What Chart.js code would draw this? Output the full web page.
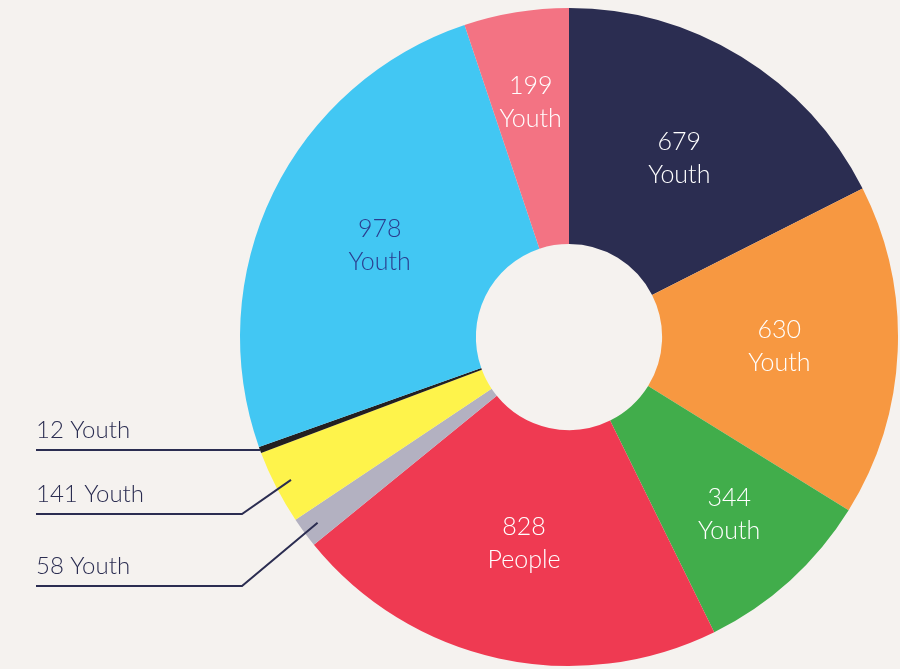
<!DOCTYPE html>
<html>
<head>
<meta charset="utf-8">
<script src="https://cdn.jsdelivr.net/npm/chart.js@4/dist/chart.umd.min.js"></script>
<style>
  html, body { margin: 0; padding: 0; background: #f5f2ef; }
  #wrap { width: 900px; height: 669px; position: relative; }
</style>
</head>
<body>
<div id="wrap"><canvas id="c" width="900" height="669"></canvas></div>
<script>
const values = [679, 630, 344, 828, 58, 141, 12, 978, 199];
const units  = ["Youth", "Youth", "Youth", "People", "Youth", "Youth", "Youth", "Youth", "Youth"];
const colors = ["#2b2d51", "#f79841", "#41ad4b", "#ef3a52", "#b3b1c1", "#fef34b", "#231f20", "#42c7f3", "#f37383"];
const textColors = ["#ffffff", "#ffffff", "#ffffff", "#ffffff", "#2b2d51", "#2b2d51", "#2b2d51", "#2b3d8f", "#ffffff"];
const labels = values.map((v, i) => v + " " + units[i]);

const FONT_IN = '300 25px Lato, "Open Sans", sans-serif';
const FONT_OUT = '300 24px Lato, "Open Sans", sans-serif';

const labelPlugin = {
  id: 'sliceLabels',
  afterDatasetsDraw(chart) {
    const ctx = chart.ctx;
    const meta = chart.getDatasetMeta(0);
    const total = values.reduce((a, b) => a + b, 0);
    ctx.save();
    ctx.font = FONT_IN;
    ctx.textAlign = 'center';
    ctx.textBaseline = 'middle';
    const external = [];
    meta.data.forEach((arc, i) => {
      const p = arc.getProps(['x', 'y', 'startAngle', 'endAngle', 'outerRadius', 'innerRadius'], true);
      const mid = (p.startAngle + p.endAngle) / 2;
      const span = (p.endAngle - p.startAngle) * 180 / Math.PI;
      if (values[i] / total < 0.05) {
        external.push({ i, p, mid });
        return;
      }
      const r = p.outerRadius * (span < 40 ? 0.725 : 0.64);
      const cx = p.x + Math.cos(mid) * r;
      const cy = p.y + Math.sin(mid) * r;
      ctx.fillStyle = textColors[i];
      ctx.fillText(String(values[i]), cx, cy - 16);
      ctx.fillText(units[i], cx, cy + 17);
    });
    // external labels, ordered top to bottom on the left side
    external.sort((a, b) => Math.sin(a.mid) - Math.sin(b.mid));
    const lineYs = [450, 514, 586];
    const textX = 36, elbowX = 242;
    ctx.font = FONT_OUT;
    ctx.textAlign = 'left';
    ctx.textBaseline = 'alphabetic';
    ctx.strokeStyle = '#2b2d51';
    ctx.lineWidth = 2;
    external.forEach((e, k) => {
      const ly = lineYs[k];
      ctx.fillStyle = '#2b2d51';
      ctx.fillText(labels[e.i], textX, ly - 12);
      ctx.beginPath();
      ctx.moveTo(textX, ly);
      if (k === 0) {
        const ex = e.p.x + Math.cos(e.mid) * e.p.outerRadius;
        ctx.lineTo(ex, ly);
      } else {
        const r = e.p.outerRadius * 0.95;
        ctx.lineTo(elbowX, ly);
        ctx.lineTo(e.p.x + Math.cos(e.mid) * r, e.p.y + Math.sin(e.mid) * r);
      }
      ctx.stroke();
    });
    ctx.restore();
  }
};

new Chart(document.getElementById('c'), {
  type: 'doughnut',
  data: {
    labels: labels,
    datasets: [{
      data: values,
      backgroundColor: colors,
      borderWidth: 0,
      hoverOffset: 0
    }]
  },
  options: {
    responsive: false,
    animation: false,
    cutout: '28.3%',
    layout: { padding: { left: 240, right: 2, top: 8, bottom: 3 } },
    plugins: {
      legend: { display: false },
      tooltip: { enabled: false }
    }
  },
  plugins: [labelPlugin]
});
</script>
</body>
</html>
